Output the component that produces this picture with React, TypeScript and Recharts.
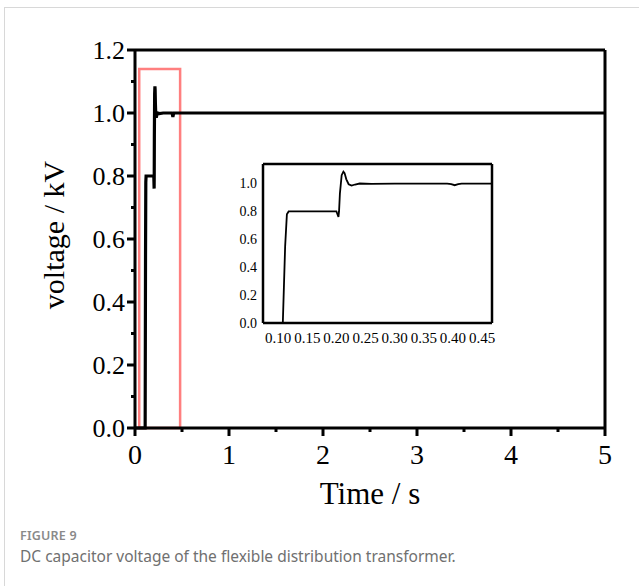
import { LineChart, Line, XAxis, YAxis, ReferenceLine, ReferenceArea } from 'recharts';

// DC capacitor voltage (kV) against time (s)
const time = [
  0, 0.105, 0.108, 0.112, 0.115, 0.118, 0.15, 0.2, 0.2035, 0.2045, 0.206, 0.209, 0.212, 0.214,
  0.217, 0.221, 0.226, 0.232, 0.24, 0.26, 0.3, 0.35, 0.39, 0.397, 0.403, 0.409, 0.415, 0.45,
  0.5, 1, 2, 3, 4, 5,
];
const voltage = [
  0, 0, 0.0, 0.55, 0.78, 0.8, 0.8, 0.8, 0.76, 0.8, 0.93, 1.06, 1.085, 1.075,
  1.03, 0.995, 0.985, 0.993, 1.0, 0.998, 1.0, 1.0, 1.0, 0.996, 0.988, 0.996, 1.0, 1.0,
  1.0, 1.0, 1.0, 1.0, 1.0, 1.0,
];

const mainXTicks = [0, 0.5, 1, 1.5, 2, 2.5, 3, 3.5, 4, 4.5, 5];
const mainYTicks = [0, 0.1, 0.2, 0.3, 0.4, 0.5, 0.6, 0.7, 0.8, 0.9, 1.0, 1.1, 1.2];
const insetXTicks = [0.1, 0.15, 0.2, 0.25, 0.3, 0.35, 0.4, 0.45];
const insetYTicks = [0, 0.2, 0.4, 0.6, 0.8, 1.0];

const data = time.map((t, i) => ({ t, v: voltage[i] }));

const serif = "'Liberation Serif', 'Times New Roman', serif";

const MainXTick = (props: any) => {
  const { x, y, payload } = props;
  const major = Number.isInteger(payload.value);
  return (
    <g>
      <line x1={x} x2={x} y1={y} y2={y + (major ? 8 : 4)} stroke="#000" strokeWidth={3} />
      {major && (
        <text x={x} y={y + 36} textAnchor="middle" fontSize={28} fontFamily={serif} fill="#000">
          {payload.value}
        </text>
      )}
    </g>
  );
};

const MainYTick = (props: any) => {
  const { x, y, payload } = props;
  const major = Math.round(payload.value * 10) % 2 === 0;
  return (
    <g>
      <line x1={x} x2={x - (major ? 8 : 4)} y1={y} y2={y} stroke="#000" strokeWidth={3} />
      {major && (
        <text x={x - 10} y={y} dy="0.34em" textAnchor="end" fontSize={26} fontFamily={serif} fill="#000">
          {payload.value.toFixed(1)}
        </text>
      )}
    </g>
  );
};

const InsetXTick = (props: any) => {
  const { x, y, payload } = props;
  return (
    <text x={x} y={y + 20} textAnchor="middle" fontSize={15} fontFamily={serif} fill="#000">
      {payload.value.toFixed(2)}
    </text>
  );
};

const InsetYTick = (props: any) => {
  const { x, y, payload } = props;
  return (
    <text x={x - 6} y={y} dy="0.34em" textAnchor="end" fontSize={14} fontFamily={serif} fill="#000">
      {payload.value.toFixed(1)}
    </text>
  );
};

const XTitle = (props: any) => {
  const { x, y, width } = props.viewBox;
  return (
    <text x={x + width / 2} y={y + 76} textAnchor="middle" fontSize={31} fontFamily={serif} fill="#000">
      Time / s
    </text>
  );
};

const YTitle = (props: any) => {
  const { y, height } = props.viewBox;
  const cx = 64;
  const cy = y + height / 2 - 4;
  return (
    <text x={cx} y={cy} transform={`rotate(-90, ${cx}, ${cy})`} textAnchor="middle" fontSize={30} fontFamily={serif} fill="#000">
      voltage / kV
    </text>
  );
};

export default function App() {
  return (
    <div style={{ position: 'absolute', left: 0, top: 0, width: 639, height: 586, background: '#fff', overflow: 'hidden' }}>
      <div
        style={{
          position: 'absolute', left: 4, top: 7, width: 640, height: 590,
          borderTop: '1px solid #d8d8d8', borderLeft: '1px solid #d8d8d8',
        }}
      />
      <div style={{ position: 'absolute', left: 0, top: 0 }}>
        <LineChart width={639} height={586} data={data} margin={{ top: 50, right: 34, bottom: 98, left: 0 }}>
          <XAxis
            dataKey="t"
            type="number"
            domain={[0, 5]}
            ticks={mainXTicks}
            interval={0}
            tickSize={0}
            tickMargin={0}
            tickLine={false}
            tick={<MainXTick />}
            axisLine={{ stroke: '#000', strokeWidth: 3 }}
            height={60}
            label={<XTitle />}
          />
          <YAxis
            type="number"
            domain={[0, 1.2]}
            ticks={mainYTicks}
            interval={0}
            tickSize={0}
            tickMargin={0}
            tickLine={false}
            tick={<MainYTick />}
            axisLine={{ stroke: '#000', strokeWidth: 3 }}
            width={135}
            label={<YTitle />}
          />
          <ReferenceLine y={1.2} stroke="#000" strokeWidth={3} />
          <ReferenceLine x={5} stroke="#000" strokeWidth={3} />
          <Line dataKey="v" stroke="#000" strokeWidth={3.2} dot={false} type="linear" isAnimationActive={false} />
          <ReferenceArea x1={0.045} x2={0.48} y1={0} y2={1.14} fill="none" stroke="rgb(255,0,0)" strokeOpacity={0.5} strokeWidth={2.5} />
        </LineChart>
      </div>
      <div style={{ position: 'absolute', left: 213, top: 154 }}>
        <LineChart width={287} height={199} data={data} margin={{ top: 10, right: 8, bottom: 0, left: 0 }}>
          <XAxis
            dataKey="t"
            type="number"
            domain={[0.074, 0.467]}
            allowDataOverflow
            ticks={insetXTicks}
            interval={0}
            tickSize={0}
            tickMargin={0}
            tickLine={false}
            tick={<InsetXTick />}
            axisLine={{ stroke: '#000', strokeWidth: 2.5 }}
            height={30}
          />
          <YAxis
            type="number"
            domain={[0, 1.14]}
            allowDataOverflow
            ticks={insetYTicks}
            interval={0}
            tickSize={0}
            tickMargin={0}
            tickLine={false}
            tick={<InsetYTick />}
            axisLine={{ stroke: '#000', strokeWidth: 2.5 }}
            width={50}
          />
          <ReferenceLine y={1.14} stroke="#000" strokeWidth={2.5} />
          <ReferenceLine x={0.467} stroke="#000" strokeWidth={2.5} />
          <Line dataKey="v" stroke="#000" strokeWidth={1.8} dot={false} type="linear" isAnimationActive={false} />
        </LineChart>
      </div>
      <div
        style={{
          position: 'absolute', left: 20, top: 528, fontFamily: "'Noto Sans', sans-serif",
          fontSize: 12.5, lineHeight: '16px', fontWeight: 600, color: '#8a8a8a', letterSpacing: 0.2,
        }}
      >
        FIGURE 9
      </div>
      <div
        style={{
          position: 'absolute', left: 20, top: 546, fontFamily: "'Noto Sans', sans-serif",
          fontSize: 15.5, lineHeight: '20px', color: '#707070', whiteSpace: 'nowrap',
        }}
      >
        DC capacitor voltage of the flexible distribution transformer.
      </div>
    </div>
  );
}
